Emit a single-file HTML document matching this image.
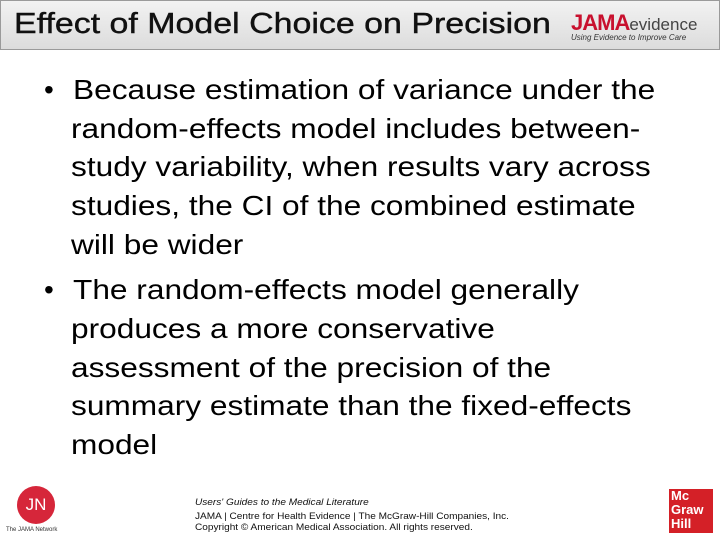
<!DOCTYPE html>
<html><head><meta charset="utf-8"><style>
body{margin:0;width:720px;height:540px;position:relative;background:#fff;font-family:"Liberation Sans",Arial,sans-serif;overflow:hidden}
.hdr{position:absolute;left:0;top:0;width:718px;height:48px;background:linear-gradient(#f2f2f2,#dcdcdc);border:1px solid #9a9a9a}
.title{position:absolute;left:14px;top:8px;font-size:29px;color:#111;white-space:nowrap;transform:scaleX(1.17);transform-origin:0 0;-webkit-text-stroke:0.4px #111}
.ln{position:absolute;font-size:28px;color:#000;white-space:nowrap;line-height:30px;transform:scaleX(1.13);transform-origin:0 0}
.bul{position:absolute;font-size:28px;line-height:30px;left:44px}
.foot{position:absolute;left:195px;font-size:9.5px;color:#111;white-space:nowrap;transform:scaleX(1.06);transform-origin:0 0}
</style></head><body>
<div class="hdr"></div>
<div class="title">Effect of Model Choice on Precision</div>
<div style="position:absolute;left:571px;top:10px;white-space:nowrap">
<span style="color:#c8102e;font-size:22px;font-weight:bold;letter-spacing:-1px">JAMA</span><span style="color:#444;font-size:17px">evidence</span>
<div style="font-size:8px;font-style:italic;color:#333;margin-top:-3px">Using Evidence to Improve Care</div></div>
<div>
<div class="bul" style="top:75px">•</div>
<div class="ln" style="left:73px;top:75px">Because estimation of variance under the</div>
<div class="ln" style="left:71px;top:114px">random-effects model includes between-</div>
<div class="ln" style="left:71px;top:152px">study variability, when results vary across</div>
<div class="ln" style="left:71px;top:191px">studies, the CI of the combined estimate</div>
<div class="ln" style="left:71px;top:230px">will be wider</div></div>
<div>
<div class="bul" style="top:275px">•</div>
<div class="ln" style="left:73px;top:275px">The random-effects model generally</div>
<div class="ln" style="left:71px;top:314px">produces a more conservative</div>
<div class="ln" style="left:71px;top:353px">assessment of the precision of the</div>
<div class="ln" style="left:71px;top:391px">summary estimate than the fixed-effects</div>
<div class="ln" style="left:71px;top:430px">model</div></div>
<div style="position:absolute;left:17px;top:486px;width:38px;height:38px;border-radius:50%;background:#d6263a;color:#fff;font-size:17px;text-align:center;line-height:38px">JN</div>
<div style="position:absolute;left:6px;top:527px;font-size:6px;color:#333">The JAMA Network</div>
<div class="foot" style="top:497px;font-style:italic">Users' Guides to the Medical Literature</div>
<div class="foot" style="top:511px">JAMA | Centre for Health Evidence | The McGraw-Hill Companies, Inc.</div>
<div class="foot" style="top:522px">Copyright © American Medical Association. All rights reserved.</div>
<div style="position:absolute;left:669px;top:489px;width:44px;height:44px;background:#d42027;color:#fff;font-weight:bold;font-size:13px;line-height:14px;padding-left:2px;box-sizing:border-box">Mc<br>Graw<br>Hill</div>
</body></html>
